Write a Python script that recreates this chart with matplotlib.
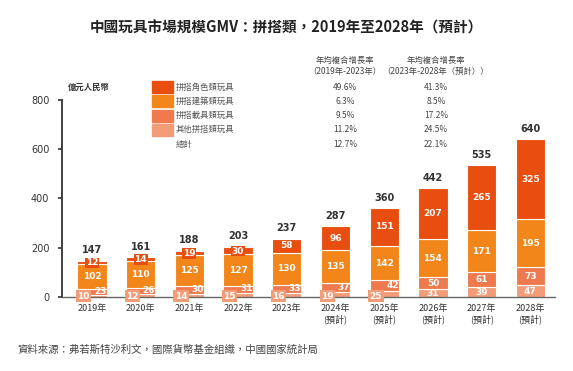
import numpy as np
import matplotlib
matplotlib.use('Agg')
import matplotlib.pyplot as plt
from matplotlib.patches import Rectangle

plt.rcParams['font.family'] = ['Noto Sans CJK TC', 'DejaVu Sans']

years = ['2019年', '2020年', '2021年', '2022年', '2023年',
         '2024年\n(預計)', '2025年\n(預計)', '2026年\n(預計)', '2027年\n(預計)', '2028年\n(預計)']
other = [10, 12, 14, 15, 16, 19, 25, 31, 39, 47]
vehicle = [23, 26, 30, 31, 33, 37, 42, 50, 61, 73]
building = [102, 110, 125, 127, 130, 135, 142, 154, 171, 195]
character = [12, 14, 19, 30, 58, 96, 151, 207, 265, 325]
totals = [147, 161, 188, 203, 237, 287, 360, 442, 535, 640]

names = ['拼搭角色類玩具', '拼搭建築類玩具', '拼搭載具類玩具', '其他拼搭類玩具', '總計']
cagr_1 = ['49.6%', '6.3%', '9.5%', '11.2%', '12.7%']
cagr_2 = ['41.3%', '8.5%', '17.2%', '24.5%', '22.1%']

c_char = '#E84E10'
c_build = '#F2861A'
c_veh = '#EE7A4E'
c_oth = '#F39C78'

fig = plt.figure(figsize=(5.73, 3.71), dpi=100)
ax = fig.add_axes([0.108, 0.1995, 0.861, 0.531])

x = np.arange(len(years))
w = 0.6
b1 = np.array(other)
b2 = b1 + np.array(vehicle)
b3 = b2 + np.array(building)
kw = dict(width=w, edgecolor='white', linewidth=0.8)
ax.bar(x, other, color=c_oth, **kw)
ax.bar(x, vehicle, bottom=b1, color=c_veh, **kw)
ax.bar(x, building, bottom=b2, color=c_build, **kw)
ax.bar(x, character, bottom=b3, color=c_char, **kw)

lab = dict(color='white', fontsize=6.5, fontweight='bold', ha='center', va='center',
           family=['DejaVu Sans'])
for i in range(len(x)):
    if i < 7:
        ax.text(x[i] - 0.17, 3, str(other[i]), clip_on=False,
                bbox=dict(boxstyle='square,pad=0.15', fc=c_oth, ec='none'), **lab)
        ax.text(x[i] + 0.17, b1[i] + vehicle[i] / 2 + 2, str(vehicle[i]), **lab)
    else:
        ax.text(x[i], other[i] / 2, str(other[i]), **lab)
        ax.text(x[i], b1[i] + vehicle[i] / 2, str(vehicle[i]), **lab)
    ax.text(x[i], b2[i] + building[i] / 2, str(building[i]), **lab)
    if character[i] < 40:
        ax.text(x[i], b3[i] + character[i] / 2 - 2, str(character[i]),
                bbox=dict(boxstyle='square,pad=0.08', fc=c_char, ec='none'), **lab)
    else:
        ax.text(x[i], b3[i] + character[i] / 2, str(character[i]), **lab)
    ax.annotate(str(totals[i]), (x[i], totals[i]), xytext=(0, 4), textcoords='offset points',
                color='#333333', fontsize=7, fontweight='bold', ha='center', va='bottom',
                family=['DejaVu Sans'])

ax.set_xlim(-0.616, 9.51)
ax.set_ylim(0, 800)
ax.set_yticks([0, 200, 400, 600, 800])
ax.set_yticklabels(['0', '200', '400', '600', '800'], fontsize=7, color='#333333',
                   family=['DejaVu Sans'])
ax.tick_params(axis='y', length=3, width=1.2, color='#333333', pad=6)
ax.set_xticks(x)
ax.set_xticklabels(years, fontsize=6.5, color='#333333', linespacing=1.2)
ax.tick_params(axis='x', length=0, pad=5)
for s in ['top', 'right']:
    ax.spines[s].set_visible(False)
ax.spines['left'].set_linewidth(1.3)
ax.spines['left'].set_color('#333333')
ax.spines['bottom'].set_color('#666666')
ax.spines['bottom'].set_linewidth(1.0)

fig.text(0.5, 0.927, '中國玩具市場規模GMV：拼搭類，2019年至2028年（預計）',
         ha='center', va='center', fontsize=10.5, fontweight='bold', color='#222222')
fig.text(68 / 573, 1 - 87 / 371, '億元人民幣', ha='left', va='center', fontsize=6,
         fontweight='bold', color='#333333')

# legend and CAGR table
cols = [c_char, c_build, c_veh, c_oth, None]
for k in range(5):
    yy = 1 - (87 + 14.3 * k) / 371
    if cols[k]:
        fig.patches.append(Rectangle((152 / 573, yy - 0.016), 21 / 573, 0.032,
                                     transform=fig.transFigure, color=cols[k]))
    fig.text(176 / 573, yy, names[k], ha='left', va='center', fontsize=6, color='#555555')
    fig.text(345 / 573, yy, cagr_1[k], ha='center', va='center', fontsize=6, color='#444444')
    fig.text(436 / 573, yy, cagr_2[k], ha='center', va='center', fontsize=6, color='#444444')

fig.text(345 / 573, 1 - 66 / 371, '年均複合增長率\n（2019年-2023年）', ha='center', va='center',
         fontsize=6, color='#444444', linespacing=1.3)
fig.text(436 / 573, 1 - 66 / 371, '年均複合增長率\n（2023年-2028年（預計））', ha='center',
         va='center', fontsize=6, color='#444444', linespacing=1.3)

fig.text(18 / 573, 1 - 350 / 371, '資料來源：弗若斯特沙利文，國際貨幣基金組織，中國國家統計局',
         ha='left', va='center', fontsize=7.5, color='#444444')

fig.savefig('out.png', dpi=100)
